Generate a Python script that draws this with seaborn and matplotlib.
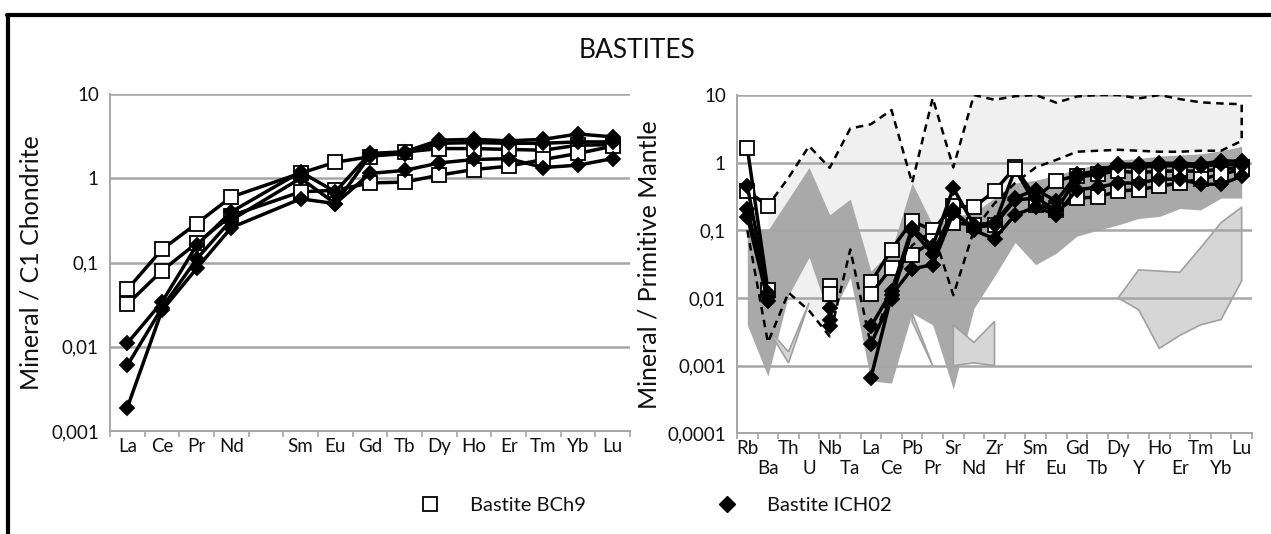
import numpy as np
import pandas as pd
import seaborn as sns
import matplotlib.pyplot as plt
from matplotlib.lines import Line2D
from matplotlib.ticker import FixedLocator, FixedFormatter, NullLocator

nan = np.nan

# ---------------- data ----------------
# left panel: REE normalised to C1 chondrite (Pm slot left empty)
ree = ['La', 'Ce', 'Pr', 'Nd', 'Pm', 'Sm', 'Eu', 'Gd', 'Tb', 'Dy', 'Ho', 'Er', 'Tm', 'Yb', 'Lu']
ree_labels = ['La', 'Ce', 'Pr', 'Nd', '', 'Sm', 'Eu', 'Gd', 'Tb', 'Dy', 'Ho', 'Er', 'Tm', 'Yb', 'Lu']

bch9_c1_a = [0.048, 0.143, 0.29, 0.60, nan, 1.15, 1.55, 1.80, 2.05, 2.25, 2.25, 2.20, 2.15, 2.47, 2.50]
bch9_c1_b = [0.032, 0.080, 0.17, 0.36, nan, 0.69, 0.72, 0.88, 0.90, 1.09, 1.27, 1.39, 1.67, 1.97, 2.40]
ich02_c1_a = [0.011, 0.034, 0.16, 0.40, nan, 1.19, 0.69, 1.97, 2.06, 2.83, 2.90, 2.78, 2.90, 3.35, 3.10]
ich02_c1_b = [0.006, 0.029, 0.11, 0.32, nan, 1.00, 0.50, 1.85, 1.95, 2.60, 2.65, 2.60, 2.60, 2.70, 2.70]
ich02_c1_c = [0.0019, 0.027, 0.085, 0.26, nan, 0.57, 0.50, 1.14, 1.24, 1.52, 1.67, 1.71, 1.34, 1.43, 1.71]

# right panel: trace elements normalised to primitive mantle
tre = ['Rb', 'Ba', 'Th', 'U', 'Nb', 'Ta', 'La', 'Ce', 'Pb', 'Pr', 'Sr', 'Nd', 'Zr',
       'Hf', 'Sm', 'Eu', 'Gd', 'Tb', 'Dy', 'Y', 'Ho', 'Er', 'Tm', 'Yb', 'Lu']

bch9_pm_a = [1.65, 0.013, nan, nan, 0.0148, nan, 0.017, 0.052, 0.137, 0.10, 0.23, 0.22, 0.38,
             0.85, 0.30, 0.54, 0.64, 0.68, 0.75, 0.71, 0.75, 0.75, 0.75, 0.80, 0.85]
bch9_pm_b = [0.38, 0.23, nan, nan, 0.0114, nan, 0.0114, 0.028, 0.043, 0.07, 0.13, 0.12, 0.12,
             0.80, 0.24, 0.20, 0.30, 0.31, 0.38, 0.40, 0.45, 0.50, 0.57, 0.67, 0.80]
ich02_pm_a = [0.45, 0.012, nan, nan, 0.0071, nan, 0.0038, 0.0125, 0.11, 0.058, 0.42, 0.12, 0.13,
              0.30, 0.40, 0.27, 0.67, 0.75, 0.95, 0.95, 0.98, 0.98, 0.95, 1.06, 1.05]
ich02_pm_b = [0.21, 0.0105, nan, nan, 0.0048, nan, 0.0021, 0.0097, 0.10, 0.045, 0.20, 0.10, 0.075,
              0.17, 0.22, 0.17, 0.40, 0.43, 0.50, 0.50, 0.57, 0.57, 0.48, 0.48, 0.63]
ich02_pm_c = [0.16, 0.009, nan, nan, 0.0038, nan, 0.00066, 0.011, 0.027, 0.031, 0.18, 0.11, 0.12,
              0.28, 0.30, 0.20, 0.60, 0.68, 0.88, 0.85, 0.90, 0.90, 0.88, 0.95, 0.92]

# reference field envelope (dashed, light fill)
env_upper = [nan, 0.23, 0.6, 1.76, 0.84, 3.2, 3.7, 6.0, 0.5, 9.0, 0.85, 10.0, 8.5,
             9.6, 10.0, 7.7, 9.5, 10.0, 10.0, 8.9, 10.0, 8.7, 7.8, 7.5, 7.3]
env_lower = [0.1, 0.0022, 0.012, 0.0065, 0.0027, 0.052, 0.002, 0.013, 0.06, 0.1, 0.011, 0.1, 0.25,
             0.5, 0.85, 1.1, 1.45, 1.5, 1.55, 1.5, 1.45, 1.45, 1.5, 1.5, 2.1]

# second reference field (dark fill)
dark_upper = [0.1, 0.1, 0.29, 0.85, 0.17, 0.29, 0.025, 0.05, 0.5, 0.12, 0.16, 0.18, 0.3,
              0.5, 0.55, 0.65, 0.8, 0.95, 1.1, 1.15, 1.25, 1.3, 1.35, 1.5, 1.75]
dark_lower = [0.004, 0.0007, 0.011, 0.04, 0.005, 0.02, 0.0006, 0.00055, 0.006, 0.004, 0.00045, 0.007, 0.021,
              0.066, 0.031, 0.046, 0.082, 0.1, 0.12, 0.15, 0.16, 0.21, 0.2, 0.3, 0.3]

# small outlined fields
poly_a_el = ['Ba', 'Th', 'U', 'Th']
poly_a_val = [0.0035, 0.0011, 0.0085, 0.0016]
poly_b_el = ['Pb', 'Pr', 'Pb']
poly_b_val = [0.006, 0.001, 0.0045]
poly_c_el = ['Sr', 'Nd', 'Zr', 'Zr', 'Nd', 'Sr']
poly_c_val = [0.004, 0.0022, 0.0045, 0.001, 0.0011, 0.001]
poly_d_el = ['Dy', 'Y', 'Ho', 'Er', 'Tm', 'Yb', 'Lu', 'Lu', 'Yb', 'Tm', 'Er', 'Ho', 'Y']
poly_d_val = [0.01, 0.026, 0.025, 0.024, 0.055, 0.13, 0.22, 0.018, 0.0048, 0.004, 0.0028, 0.0018, 0.0067]

left_ticks = [0.001, 0.01, 0.1, 1, 10]
left_ticklabels = ['0,001', '0,01', '0,1', '1', '10']
right_ticks = [0.0001, 0.001, 0.01, 0.1, 1, 10]
right_ticklabels = ['0,0001', '0,001', '0,01', '0,1', '1', '10']

# ---------------- style ----------------
sns.set_style('white')
plt.rcParams['font.family'] = ['Lato', 'DejaVu Sans']
GRID = '#a6a6a6'
TXT = '#111111'


def draw(ax, vals, marker, face, ms, connect_gaps=False):
    s = pd.Series(vals, index=np.arange(len(vals)), dtype=float)
    if connect_gaps:
        segs = [s.dropna()]
    else:
        grp = s.isna().cumsum()
        segs = [g for _, g in s.dropna().groupby(grp[s.notna()])]
    for seg in segs:
        sns.lineplot(x=seg.index.values, y=seg.values, ax=ax, color='black', lw=2.5,
                     marker=marker, ms=ms, mfc=face, mec='black', mew=1.3,
                     estimator=None, sort=False, legend=False, zorder=5)


def style_axes(ax, n, ticks, ticklabels, ymin):
    ax.set_yscale('log')
    ax.set_ylim(ymin, 10)
    ax.set_xlim(-0.5, n - 0.5)
    ax.yaxis.set_major_locator(FixedLocator(ticks))
    ax.yaxis.set_major_formatter(FixedFormatter(ticklabels))
    ax.yaxis.set_minor_locator(NullLocator())
    ax.tick_params(axis='y', which='major', length=4, width=1.2, color=GRID, labelsize=13.5,
                   labelcolor=TXT, pad=4)
    ax.yaxis.grid(True, color=GRID, lw=1.8)
    ax.xaxis.grid(False)
    ax.set_axisbelow('line')
    for side in ['top', 'right']:
        ax.spines[side].set_visible(False)
    for side in ['left', 'bottom']:
        ax.spines[side].set_color(GRID)
        ax.spines[side].set_linewidth(1.4)
    ax.set_xlabel('')
    # category boundary tick marks (Excel style)
    sec = ax.secondary_xaxis('bottom')
    sec.set_xticks(np.arange(n + 1) - 0.5)
    sec.set_xticklabels([''] * (n + 1))
    sec.tick_params(length=4, width=1.2, color=GRID, direction='out')
    sec.spines['bottom'].set_color(GRID)
    sec.spines['bottom'].set_linewidth(1.4)


fig = plt.figure(figsize=(12.71, 5.34), dpi=100)

# ---------------- left panel ----------------
axl = fig.add_axes([110 / 1271, 1 - 431 / 534, 520 / 1271, 337 / 534])
for v in [bch9_c1_a, bch9_c1_b]:
    draw(axl, v, 's', 'white', 10.5, connect_gaps=True)
for v in [ich02_c1_a, ich02_c1_b, ich02_c1_c]:
    draw(axl, v, 'D', 'black', 7.5, connect_gaps=True)
style_axes(axl, len(ree), left_ticks, left_ticklabels, 0.001)
axl.set_xticks(np.arange(len(ree)))
axl.set_xticklabels(ree_labels)
axl.xaxis.set_minor_locator(NullLocator())
axl.tick_params(axis='x', which='major', length=0, pad=5, labelsize=13.5, colors=TXT)
axl.set_ylabel('Mineral / C1 Chondrite', fontsize=18, labelpad=6, color=TXT)

# ---------------- right panel ----------------
axr = fig.add_axes([737 / 1271, 1 - 433.3 / 534, 515 / 1271, 338.3 / 534])
xi = np.arange(len(tre))
pos = {el: i for i, el in enumerate(tre)}

up = np.array(env_upper)
lo = np.array(env_lower)
ok = ~np.isnan(up)
axr.fill_between(xi[ok], lo[ok], up[ok], color='#f0f0f0', lw=0, zorder=0.8)
axr.fill_between(xi, dark_lower, dark_upper, color='#a9a9a9', lw=0, zorder=1)
for els, vals in [(poly_a_el, poly_a_val), (poly_b_el, poly_b_val),
                  (poly_c_el, poly_c_val), (poly_d_el, poly_d_val)]:
    axr.fill([pos[e] for e in els], vals, facecolor='#d6d6d6', edgecolor='#a0a0a0', lw=1.2, zorder=1.2)

# envelope outline: lower edge, up at Lu, back along upper edge
ex = np.concatenate([xi, xi[ok][::-1]])
ey = np.concatenate([lo, up[ok][::-1]])
sns.lineplot(x=ex, y=ey, ax=axr, color='black', lw=1.8, sort=False, estimator=None,
             legend=False, zorder=3, dashes=False)
axr.lines[-1].set_linestyle((0, (3, 2.2)))

for v in [bch9_pm_a, bch9_pm_b]:
    draw(axr, v, 's', 'white', 10.5)
for v in [ich02_pm_a, ich02_pm_b, ich02_pm_c]:
    draw(axr, v, 'D', 'black', 7.5)

style_axes(axr, len(tre), right_ticks, right_ticklabels, 0.0001)
# labels staggered on two rows: even positions on top row, odd ones below
axr.set_xticks(xi[::2])
axr.set_xticklabels(tre[::2])
axr.set_xticks(xi[1::2], minor=True)
axr.set_xticklabels(tre[1::2], minor=True)
axr.tick_params(axis='x', which='major', length=0, pad=5, labelsize=13.5, colors=TXT)
axr.tick_params(axis='x', which='minor', length=0, pad=19, labelsize=13.5, colors=TXT)
axr.set_ylabel('Mineral / Primitive Mantle', fontsize=18, labelpad=5, color=TXT)

# ---------------- title, legend, frame ----------------
fig.text(0.501, 1 - 50 / 534, 'BASTITES', ha='center', va='center', fontsize=19, color=TXT)

handles = [Line2D([], [], ls='none', marker='s', ms=10.5, mfc='white', mec='black', mew=1.3),
           Line2D([], [], ls='none', marker='D', ms=8.5, mfc='black', mec='black')]
fig.legend(handles, ['Bastite BCh9', 'Bastite ICH02'], ncol=2, frameon=False, loc='center',
           bbox_to_anchor=(0.516, 1 - 505 / 534), fontsize=14.5, handlelength=1,
           handletextpad=1.5, columnspacing=6.5, labelcolor=TXT)

fig.add_artist(Line2D([7 / 1271, 1], [1 - 15 / 534, 1 - 15 / 534], transform=fig.transFigure,
                      color='black', lw=3))
fig.add_artist(Line2D([8 / 1271, 8 / 1271], [0, 1 - 15 / 534], transform=fig.transFigure,
                      color='black', lw=3))

fig.savefig('out.png', dpi=100, facecolor='white')
